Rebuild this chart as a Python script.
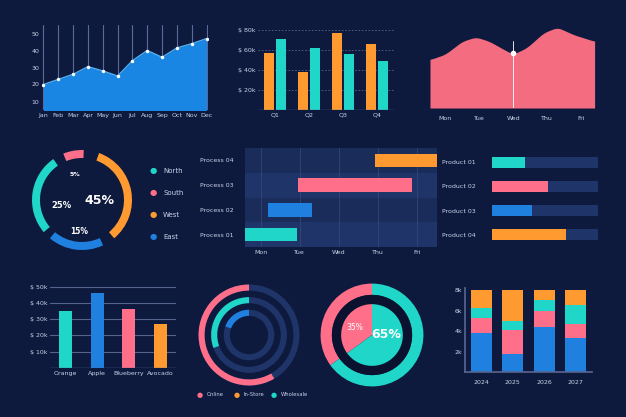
import numpy as np, pandas as pd, seaborn as sns, matplotlib
matplotlib.use("Agg")
import matplotlib.pyplot as plt
from matplotlib.patches import Wedge, Circle

sns.set_theme(style="dark")
plt.rcParams['font.family'] = ['DejaVu Sans']
BG = "#0e1a3d"; TXT = "#c9d1e8"; TRACK = "#1f3569"
TEAL = "#1fd6c8"; ORANGE = "#ff9a30"; PINK = "#ff6f8a"; BLUE = "#1f80e0"

months = ["Jan","Feb","Mar","Apr","May","Jun","Jul","Aug","Sep","Oct","Nov","Dec"]
month_vals = [20,23,26,30.5,28,25,34,40,36,41.5,44,47]
quarters = ["Q1","Q2","Q3","Q4"]
q_a = [57,38,77,66]; q_b = [71,62,56,49]
days = ["Mon","Tue","Wed","Thu","Fri"]
wave_x = [-0.45,0,0.5,0.9,1.3,1.75,2,2.4,2.9,3.3,3.8,4.4]
wave_y = [45,50,62,66,62,54,50,56,70,75,68,62]
donut_labels = ["North","South","West","East"]
donut_colors = [TEAL,PINK,ORANGE,BLUE]
processes = ["Process 04","Process 03","Process 02","Process 01"]
proc_start = [2.93,0.94,0.18,-0.4]; proc_end = [4.5,3.87,1.3,0.92]
products = ["Product 01","Product 02","Product 03","Product 04"]
prod_vals = [31,53,38,70]
fruits = ["Orange","Apple","Blueberry","Avocado"]
fruit_vals = [35,46,36,27]
channels = ["Online","In-Store","Wholesale"]
years = ["2024","2025","2026","2027"]
st_blue = [3.8,1.8,4.4,3.3]; st_pink = [1.5,2.3,1.6,1.4]
st_teal = [0.9,0.9,1.0,1.8]; st_orange = [1.8,3.0,1.0,1.5]

W, H = 626, 417
fig = plt.figure(figsize=(6.26,4.17), dpi=100, facecolor=BG)
def ax_px(x0,y0,x1,y1):
    a = fig.add_axes([x0/W, 1-y1/H, (x1-x0)/W, (y1-y0)/H])
    a.set_facecolor("none")
    for s in a.spines.values(): s.set_visible(False)
    a.tick_params(colors=TXT, labelsize=4.5, length=0, pad=2)
    a.grid(False)
    return a

# 1 area line
a = ax_px(42,25,208,110)
xs = np.arange(12)
a.fill_between(xs, month_vals, 0, color="#1a86e4", lw=0)
for x in xs: a.plot([x,x],[0,55],color="#5a6a9a",lw=0.8,zorder=0)
sns.lineplot(x=xs,y=month_vals,ax=a,color="#4fb0f5",lw=1,marker="o",markersize=2.5,
             markerfacecolor="white",markeredgewidth=0)
a.set_xlim(-0.1,11.1); a.set_ylim(5,55)
a.set_xticks(xs); a.set_xticklabels(months); a.set_yticks([10,20,30,40,50])

# 2 grouped bars
a = ax_px(258,28,394,110)
df = pd.DataFrame({"q":quarters*2,"v":q_a+q_b,"s":["a"]*4+["b"]*4})
sns.barplot(df,x="q",y="v",hue="s",palette=[ORANGE,TEAL],ax=a,legend=False,width=0.75,gap=0.2,
            linewidth=0,edgecolor="none",saturation=1)
a.set_ylim(0,82); a.set_yticks([20,40,60,80]); a.set_yticklabels(["$ 20k","$ 40k","$ 60k","$ 80k"])
for y in [20,40,60,80]: a.axhline(y,color="#55648f",lw=0.6,ls=(0,(2,2)),zorder=0)
a.axhline(0,color="#55648f",lw=1)
a.set_xlabel(""); a.set_ylabel("")

# 3 wave
a = ax_px(430,22,598,108)
xx = np.linspace(wave_x[0],wave_x[-1],200)
yy = np.interp(xx, wave_x, wave_y)
k = np.ones(11)/11; yy = np.convolve(np.pad(yy,5,mode="edge"),k,mode="valid")
a.fill_between(xx,yy,0,color="#f46c80",lw=0)
a.plot([2,2],[0,62],color="white",lw=0.6)
a.plot([2],[np.interp(2,xx,yy)],"o",color="white",ms=3)
a.set_xlim(wave_x[0],wave_x[-1]+0.1); a.set_ylim(0,80); a.set_yticks([])
a.set_xticks(range(5)); a.set_xticklabels(days); a.tick_params(axis="x",pad=6)

# 4 donut
a = ax_px(22,145,142,255); a.set_aspect("equal"); a.set_xlim(-1.2,1.2); a.set_ylim(-1.1,1.1)
a.set_xticks([]); a.set_yticks([])
segs = [(ORANGE,-50,70),(BLUE,-130,-65),(TEAL,125,220),(PINK,88,112)]
for c,t1,t2 in segs:
    a.add_patch(Wedge((0,0),1,t1,t2,width=0.16,color=c,lw=0))
a.text(0.35,0,"45%",color="white",fontsize=9,weight="bold",ha="center",va="center")
a.text(-0.42,-0.1,"25%",color="white",fontsize=6,weight="bold",ha="center",va="center")
a.text(-0.05,-0.62,"15%",color="white",fontsize=5.5,weight="bold",ha="center",va="center")
a.text(-0.15,0.5,"5%",color="white",fontsize=4.5,weight="bold",ha="center",va="center")
for i,(l,c) in enumerate(zip(donut_labels,donut_colors)):
    fig.text(153/W,1-(171+22*i)/H,"●",color=c,fontsize=6,va="center",ha="center")
    fig.text(163/W,1-(171+22*i)/H,l,color=TXT,fontsize=5,va="center")

# 5 gantt
a = ax_px(245,148,437,247)
for i in range(4):
    a.axhspan(i-0.5,i+0.5,color=TRACK if i%2==0 else "#1a2c5a",zorder=0,lw=0)
for x in range(5): a.axvline(x,color="#3a4a7a",lw=0.5,zorder=0.5)
cols = [ORANGE,PINK,BLUE,TEAL]
for i,(s,e,c) in enumerate(zip(proc_start,proc_end,cols)):
    a.barh(3-i,e-s,left=s,height=0.55,color=c,zorder=2,lw=0)
a.set_xlim(-0.4,4.5); a.set_ylim(-0.5,3.5)
a.set_yticks([3,2,1,0]); a.set_yticklabels(processes)
a.set_xticks(range(5)); a.set_xticklabels(["Mon","Tue","Wed","Thu","Fri"])
a.tick_params(axis="y",pad=8)

# 6 product progress
a = ax_px(492,150,598,247)
for i,(v,c) in enumerate(zip(prod_vals,[TEAL,PINK,BLUE,ORANGE])):
    a.barh(3-i,100,color=TRACK,height=0.45,lw=0)
    a.barh(3-i,v,color=c,height=0.45,lw=0)
a.set_xlim(0,100); a.set_ylim(-0.5,3.5); a.set_xticks([])
a.set_yticks([3,2,1,0]); a.set_yticklabels(products); a.tick_params(axis="y",pad=12)

# 7 fruit bars
a = ax_px(50,285,176,368)
for y in [10,20,30,40,50]: a.axhline(y,color="#55648f",lw=0.8,zorder=0)
sns.barplot(x=fruits,y=fruit_vals,hue=fruits,palette=[TEAL,BLUE,PINK,ORANGE],ax=a,width=0.42,
            legend=False,linewidth=0,edgecolor="none",saturation=1)
a.axhline(0,color="#55648f",lw=1)
a.set_ylim(0,51); a.set_yticks([10,20,30,40,50])
a.set_yticklabels(["$ 10k","$ 20k","$ 30k","$ 40k","$ 50k"])

# 8 concentric
a = ax_px(196,282,302,388); a.set_aspect("equal"); a.set_xlim(-1.05,1.05); a.set_ylim(-1.05,1.05)
a.set_xticks([]); a.set_yticks([])
for r,c,t1 in [(1,PINK,300),(0.75,TEAL,200),(0.5,BLUE,160)]:
    a.add_patch(Wedge((0,0),r,0,360,width=0.12,color=TRACK,lw=0))
    a.add_patch(Wedge((0,0),r,90,t1,width=0.12,color=c,lw=0))
for i,(l,c) in enumerate(zip(channels,[PINK,ORANGE,TEAL])):
    x = 200+37*i
    fig.text(x/W,1-395/H,"●",color=c,fontsize=5,va="center",ha="center")
    fig.text((x+7)/W,1-395/H,l,color=TXT,fontsize=3.8,va="center")

# 9 pie + ring
a = ax_px(318,280,426,390); a.set_aspect("equal"); a.set_xlim(-1.05,1.05); a.set_ylim(-1.05,1.05)
a.set_xticks([]); a.set_yticks([])
a.add_patch(Wedge((0,0),1,90,216,width=0.22,color=PINK,lw=0))
a.add_patch(Wedge((0,0),1,216,450,width=0.22,color=TEAL,lw=0))
a.add_patch(Circle((0,0),0.78,color="#0a1230",lw=0))
a.add_patch(Wedge((0,0),0.6,90,216,color=PINK,lw=0))
a.add_patch(Wedge((0,0),0.6,216,450,color=TEAL,lw=0))
a.text(-0.33,0.15,"35%",color="white",fontsize=5.5,ha="center",va="center")
a.text(0.27,0.0,"65%",color="white",fontsize=9,weight="bold",ha="center",va="center")

# 10 stacked
a = ax_px(465,288,592,372)
bottom = np.zeros(4)
for vals,c in [(st_blue,BLUE),(st_pink,PINK),(st_teal,TEAL),(st_orange,ORANGE)]:
    a.bar(years,vals,bottom=bottom,color=c,width=0.68,lw=0); bottom += np.array(vals)
a.set_ylim(0,8.2); a.set_yticks([2,4,6,8]); a.set_yticklabels(["2k","4k","6k","8k"])
a.spines["left"].set_visible(True); a.spines["bottom"].set_visible(True)
a.spines["left"].set_color("#55648f"); a.spines["bottom"].set_color("#55648f")
a.tick_params(axis="x",pad=6)

fig.savefig("out.png",dpi=100,facecolor=BG)
